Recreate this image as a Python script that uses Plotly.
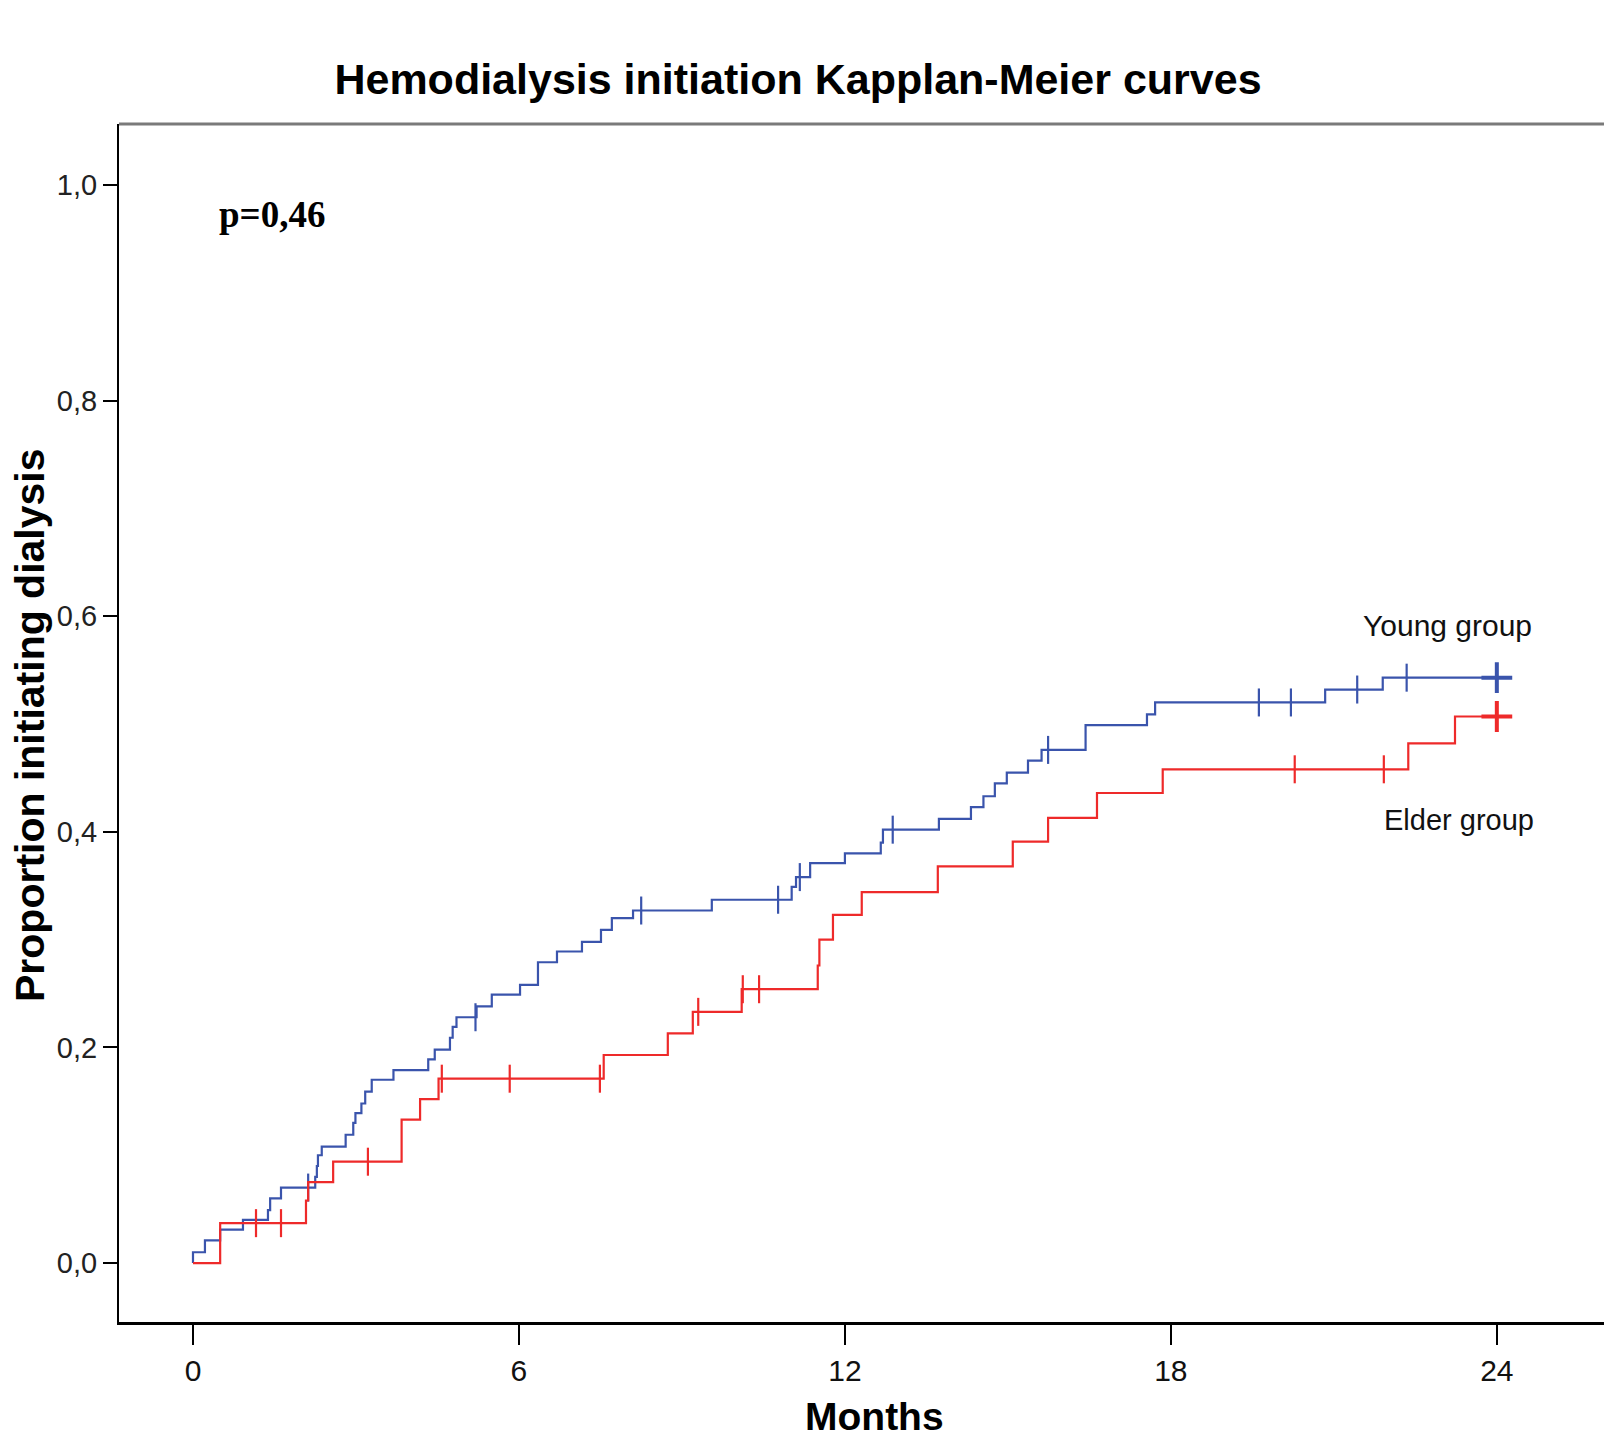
import plotly.graph_objects as go

# ---------------- data ----------------
# Young group: event times (months) and cumulative proportion after each step
young_times = [0.0, 0.0, 0.22, 0.50, 0.92, 1.38, 1.42, 1.62, 2.25, 2.28, 2.30, 2.37,
               2.81, 2.95, 2.99, 3.10, 3.17, 3.29, 3.69, 4.33, 4.45, 4.73, 4.78, 4.85,
               5.22, 5.50, 6.02, 6.35, 6.70, 7.16, 7.51, 7.71, 8.10, 9.55, 11.02, 11.10,
               11.36, 12.00, 12.66, 12.70, 13.73, 14.32, 14.55, 14.76, 14.98, 15.37, 15.62,
               16.43, 17.56, 17.71, 20.84, 21.90, 24.0]
young_vals = [0.000, 0.010, 0.021, 0.031, 0.040, 0.049, 0.060, 0.070, 0.080, 0.090, 0.100, 0.108,
              0.119, 0.130, 0.139, 0.148, 0.159, 0.170, 0.179, 0.189, 0.198, 0.209, 0.219, 0.228,
              0.238, 0.249, 0.258, 0.279, 0.289, 0.298, 0.309, 0.320, 0.327, 0.337, 0.349, 0.358,
              0.371, 0.380, 0.390, 0.402, 0.412, 0.423, 0.433, 0.445, 0.455, 0.466, 0.476,
              0.499, 0.509, 0.520, 0.532, 0.543, 0.543]
young_censored = [2.12, 5.20, 8.25, 10.77, 11.17, 12.88, 15.74, 19.62, 20.21, 21.43, 22.34]
young_final = [24.0]

# Elder group
elder_times = [0.0, 0.50, 2.08, 2.12, 2.58, 3.84, 4.18, 4.52, 7.56, 8.74, 9.20, 10.10,
               11.50, 11.53, 11.78, 12.31, 13.71, 15.09, 15.74, 16.64, 17.85, 22.37, 23.23, 24.0]
elder_vals = [0.000, 0.037, 0.058, 0.075, 0.094, 0.133, 0.152, 0.171, 0.193, 0.213, 0.233, 0.254,
              0.276, 0.300, 0.323, 0.344, 0.368, 0.391, 0.413, 0.436, 0.458, 0.482, 0.507, 0.507]
elder_censored = [1.16, 1.62, 3.22, 4.58, 5.83, 7.49, 9.30, 10.12, 10.42, 20.28, 21.92]
elder_final = [24.0]

x_ticks = [0, 6, 12, 18, 24]
y_ticks = [0.0, 0.2, 0.4, 0.6, 0.8, 1.0]
y_ticktext = ["0,0", "0,2", "0,4", "0,6", "0,8", "1,0"]

BLUE = "rgb(58,84,172)"
RED = "rgb(238,42,42)"


def step_value(times, vals, t):
    v = vals[0]
    for ti, vi in zip(times, vals):
        if ti <= t:
            v = vi
    return v


fig = go.Figure()

for times, vals, cens, fin, col, name in [
    (young_times, young_vals, young_censored, young_final, BLUE, "Young group"),
    (elder_times, elder_vals, elder_censored, elder_final, RED, "Elder group"),
]:
    fig.add_trace(go.Scatter(x=times, y=vals, mode="lines", line=dict(color=col, width=2.2, shape="hv"),
                             name=name, showlegend=False, hoverinfo="skip"))
    fig.add_trace(go.Scatter(x=cens, y=[step_value(times, vals, t) for t in cens], mode="markers",
                             marker=dict(symbol="line-ns", size=20, line=dict(color=col, width=2.2)),
                             showlegend=False, hoverinfo="skip"))
    fig.add_trace(go.Scatter(x=fin, y=[step_value(times, vals, t) for t in fin], mode="markers",
                             marker=dict(symbol="cross-thin", size=22, line=dict(color=col, width=4)),
                             showlegend=False, hoverinfo="skip"))

# page is offset by the 8px body margin
OFF = 8
PAGE_W, PAGE_H = 1612, 1443
PLOT_L, PLOT_R, PLOT_T, PLOT_B = 119, 1612, 124, 1322   # plot box in page pixels
W, H = PAGE_W - OFF, PAGE_H - OFF
L = PLOT_L - OFF
T = PLOT_T - OFF
R = W - (PLOT_R - OFF)
B = H - (PLOT_B - OFF)


def px(xp):
    return (xp - PLOT_L) / (PLOT_R - PLOT_L)


def py(yp):
    return (PLOT_B - yp) / (PLOT_B - PLOT_T)


fig.update_layout(
    width=W, height=H,
    margin=dict(l=L, r=R, t=T, b=B),
    plot_bgcolor="white", paper_bgcolor="white",
    font=dict(family="Liberation Sans, Arial, sans-serif", color="black"),
    title=dict(text="<b>Hemodialysis initiation Kapplan-Meier curves</b>",
               x=(798 - OFF) / W, xanchor="center", xref="container",
               y=1 - (79 - OFF) / H, yanchor="middle", yref="container",
               font=dict(size=43, color="black")),
    xaxis=dict(range=[-1.362, 26.12], tickvals=x_ticks, ticktext=[str(v) for v in x_ticks],
               showgrid=False, zeroline=False, showline=True, linecolor="black", linewidth=3,
               ticks="outside", ticklen=20, tickwidth=1.5, tickcolor="black",
               tickfont=dict(size=30, color="#111")),
    yaxis=dict(range=[-0.0547, 1.0566], tickvals=y_ticks, ticktext=y_ticktext,
               showgrid=False, zeroline=False, showline=True, linecolor="black", linewidth=2,
               ticks="outside", ticklen=14, tickwidth=1.5, tickcolor="black",
               tickfont=dict(size=29, color="#222")),
    shapes=[dict(type="line", xref="paper", yref="paper", x0=0, x1=1, y0=1, y1=1,
                 line=dict(color="#7a7a7a", width=3))],
    annotations=[
        dict(text="<b>Proportion initiating dialysis</b>", xref="paper", yref="paper",
             x=px(30), y=py(725), xanchor="center", yanchor="middle", textangle=-90,
             showarrow=False, font=dict(size=41, color="black")),
        dict(text="<b>Months</b>", xref="paper", yref="paper",
             x=px(874), y=py(1416), xanchor="center", yanchor="middle",
             showarrow=False, font=dict(size=39, color="black")),
        dict(text="<b>p=0,46</b>", xref="paper", yref="paper",
             x=px(272), y=py(214), xanchor="center", yanchor="middle",
             showarrow=False, font=dict(size=37, color="black",
                                        family="Liberation Serif, Times New Roman, serif")),
        dict(text="Young group", xref="paper", yref="paper",
             x=px(1447), y=py(625), xanchor="center", yanchor="middle",
             showarrow=False, font=dict(size=30, color="#111")),
        dict(text="Elder group", xref="paper", yref="paper",
             x=px(1459), y=py(820), xanchor="center", yanchor="middle",
             showarrow=False, font=dict(size=29, color="#111")),
    ],
)

fig.write_html("out.html")
